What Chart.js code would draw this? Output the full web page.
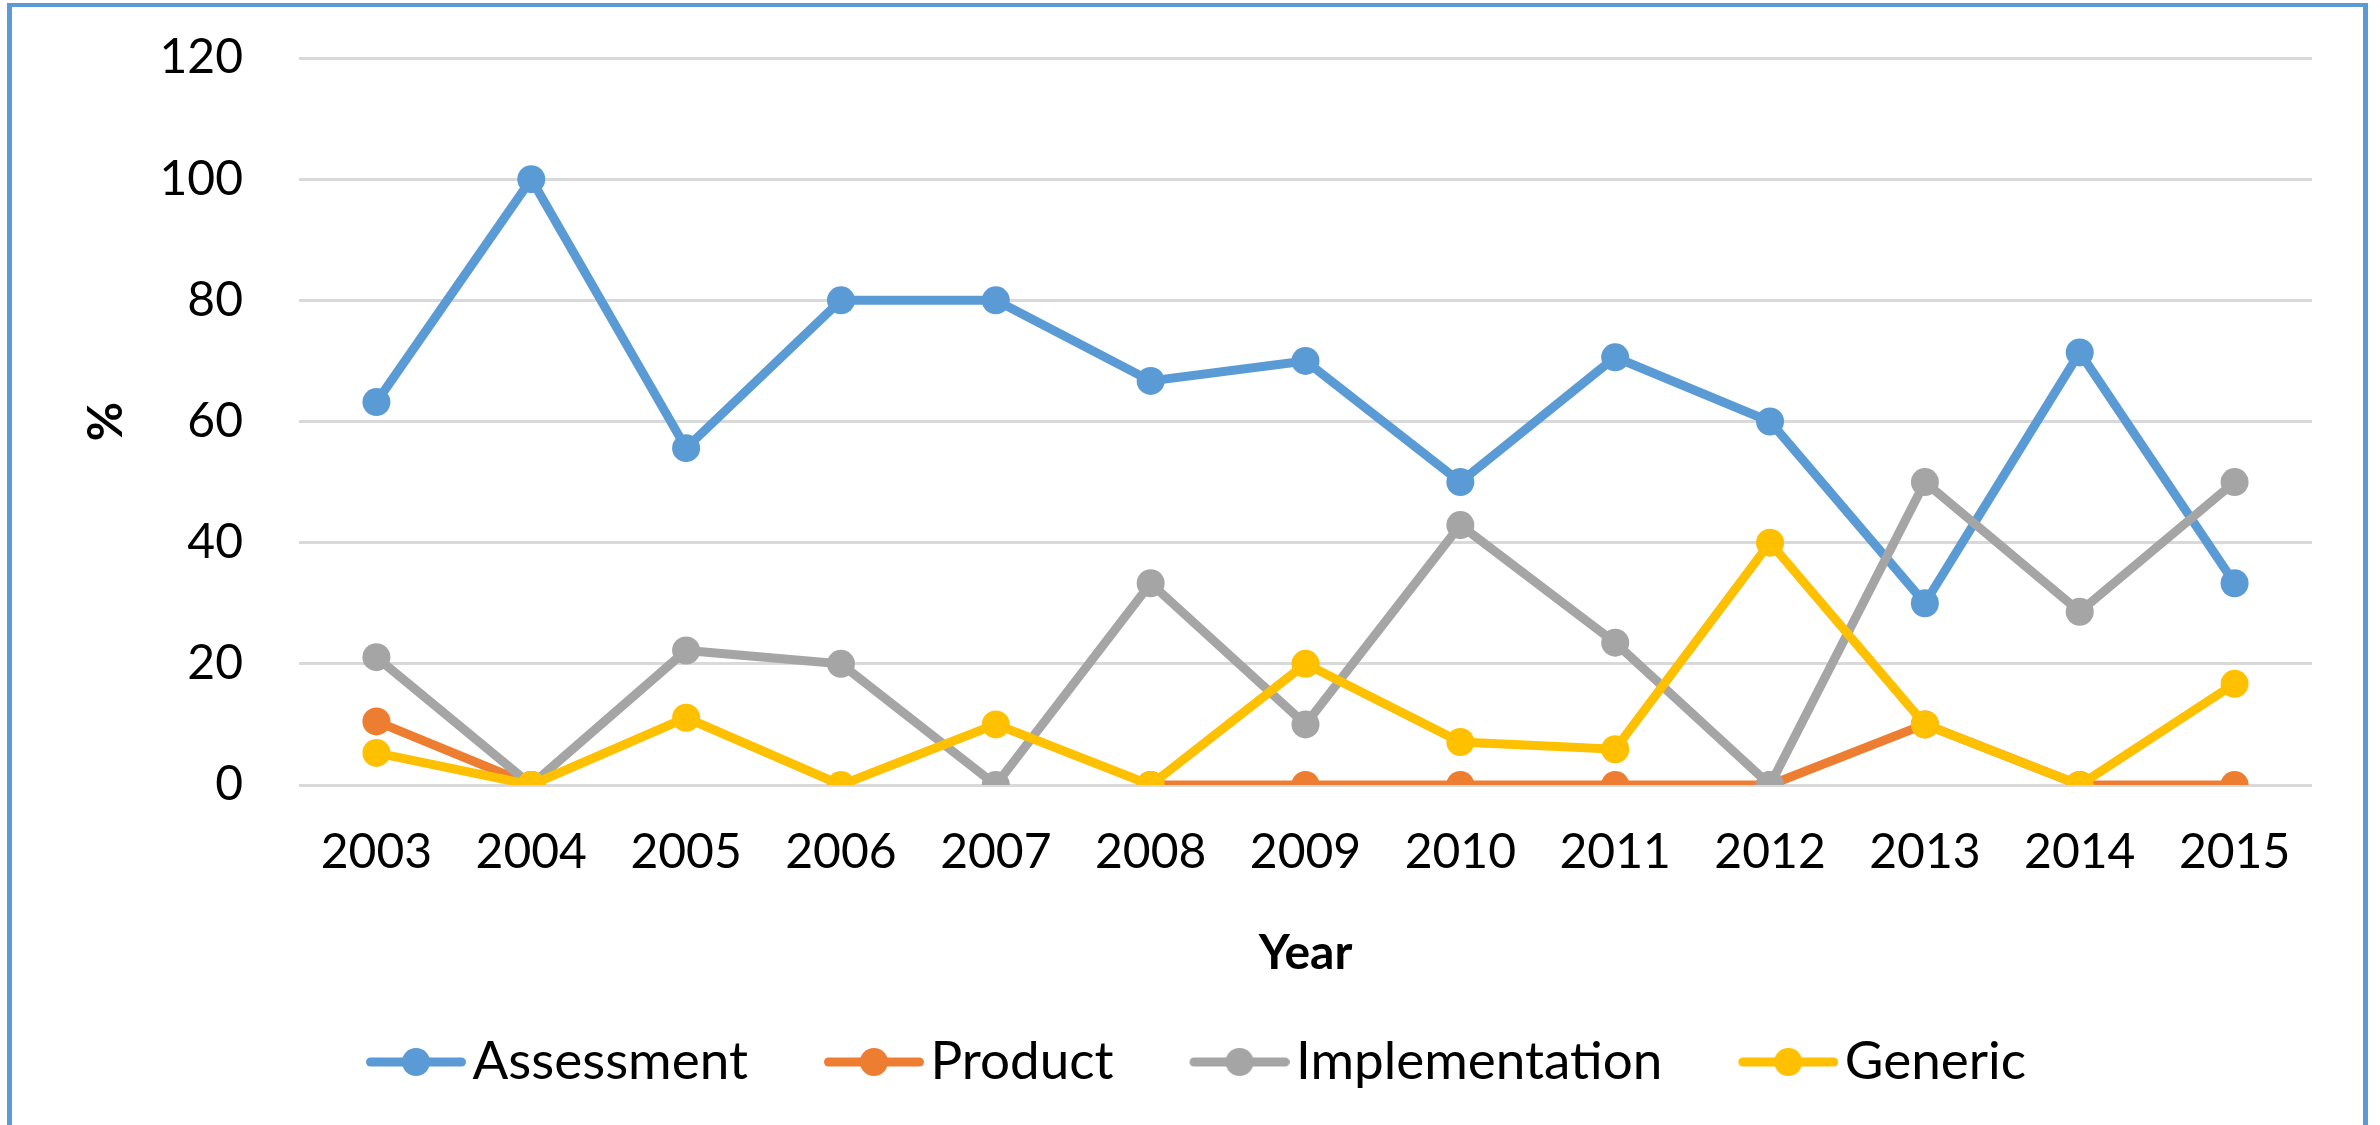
<!DOCTYPE html>
<html><head><meta charset="utf-8">
<script src="https://cdn.jsdelivr.net/npm/chart.js@4"></script>
<style>
html,body{margin:0;padding:0;background:#fff;width:2380px;height:1125px;overflow:hidden}
#c{position:absolute;left:0;top:0}
#frame{position:absolute;left:7px;top:3px;width:2351px;height:1200px;border:5px solid #5b9bd5;border-top-width:4px;border-bottom:none;pointer-events:none}
</style></head>
<body>
<canvas id="c" width="2380" height="1125"></canvas>
<div id="frame"></div>
<script>
const years = ['2003','2004','2005','2006','2007','2008','2009','2010','2011','2012','2013','2014','2015'];
const assessment = [63.2, 100, 55.6, 80, 80, 66.7, 70, 50, 70.6, 60, 30, 71.4, 33.3];
const product = [10.5, 0, null, null, null, 0, 0, 0, 0, 0, 10, 0, 0];
const implementation = [21.1, 0, 22.2, 20, 0, 33.3, 10, 42.9, 23.5, 0, 50, 28.6, 50];
const generic = [5.3, 0, 11.1, 0, 10, 0, 20, 7.1, 5.9, 40, 10, 0, 16.7];
const seriesNames = ['Assessment', 'Product', 'Implementation', 'Generic'];
const seriesColors = ['#5B9BD5', '#ED7D31', '#A5A5A5', '#FFC000'];
const yTicks = {min: 0, max: 120, step: 20};

const FONT = "Lato, 'Open Sans', sans-serif";
const LINE_W = 9;
const PT_R = 14;

function legendImg(color) {
  const cv = document.createElement('canvas');
  cv.width = 176; cv.height = 32;
  const g = cv.getContext('2d');
  g.strokeStyle = color; g.lineWidth = LINE_W; g.lineCap = 'round';
  g.beginPath(); g.moveTo(176 - 100 + LINE_W / 2, 16); g.lineTo(176 - LINE_W / 2, 16); g.stroke();
  g.fillStyle = color;
  g.beginPath(); g.arc(176 - 50, 16, PT_R, 0, Math.PI * 2); g.fill();
  return cv;
}
const legendImgs = seriesColors.map(legendImg);

const allData = [assessment, product, implementation, generic];
const datasets = allData.map((d, i) => ({
  label: seriesNames[i],
  data: d,
  borderColor: seriesColors[i],
  backgroundColor: seriesColors[i],
  pointBackgroundColor: seriesColors[i],
  pointBorderColor: seriesColors[i],
  borderWidth: LINE_W,
  pointRadius: PT_R,
  pointBorderWidth: 0,
  pointHoverRadius: PT_R,
  tension: 0,
  spanGaps: false,
  fill: false,
  order: 3 - i
}));

new Chart(document.getElementById('c'), {
  type: 'line',
  data: {labels: years, datasets},
  options: {
    responsive: false,
    devicePixelRatio: 1,
    animation: false,
    events: [],
    layout: {padding: {left: 24, right: 68, top: 58, bottom: 26.5}},
    plugins: {
      tooltip: {enabled: false},
      legend: {
        position: 'bottom',
        labels: {
          usePointStyle: true,
          pointStyleWidth: 136,
          padding: 20,
          color: '#000',
          font: {family: FONT, size: 53},
          sort: (a, b) => a.datasetIndex - b.datasetIndex,
          generateLabels: (chart) => {
            const items = Chart.defaults.plugins.legend.labels.generateLabels(chart);
            items.forEach(it => { it.pointStyle = legendImgs[it.datasetIndex]; it.lineWidth = 0; });
            return items;
          }
        }
      }
    },
    scales: {
      x: {
        type: 'category',
        offset: true,
        grid: {display: false},
        border: {display: false},
        ticks: {color: '#000', font: {family: FONT, size: 48}, padding: 31, maxRotation: 0, autoSkip: false},
        title: {display: true, text: 'Year', color: '#000', font: {family: FONT, size: 48, weight: 'bold'}, padding: {top: 40, bottom: 32.7}},
        afterFit: (s) => { s.height = 230.5; }
      },
      y: {
        min: yTicks.min, max: yTicks.max,
        grid: {color: '#d9d9d9', lineWidth: 3, drawTicks: false},
        border: {display: false},
        ticks: {stepSize: yTicks.step, color: '#000', font: {family: FONT, size: 48}, padding: 56},
        title: {display: true, text: '%', color: '#000', font: {family: FONT, size: 48, weight: 'bold'}, padding: {top: 54, bottom: 0}},
        afterFit: (s) => { s.width = 275; s.paddingTop = 0; s.paddingBottom = 0; }
      }
    }
  }
});
</script>
</body></html>
